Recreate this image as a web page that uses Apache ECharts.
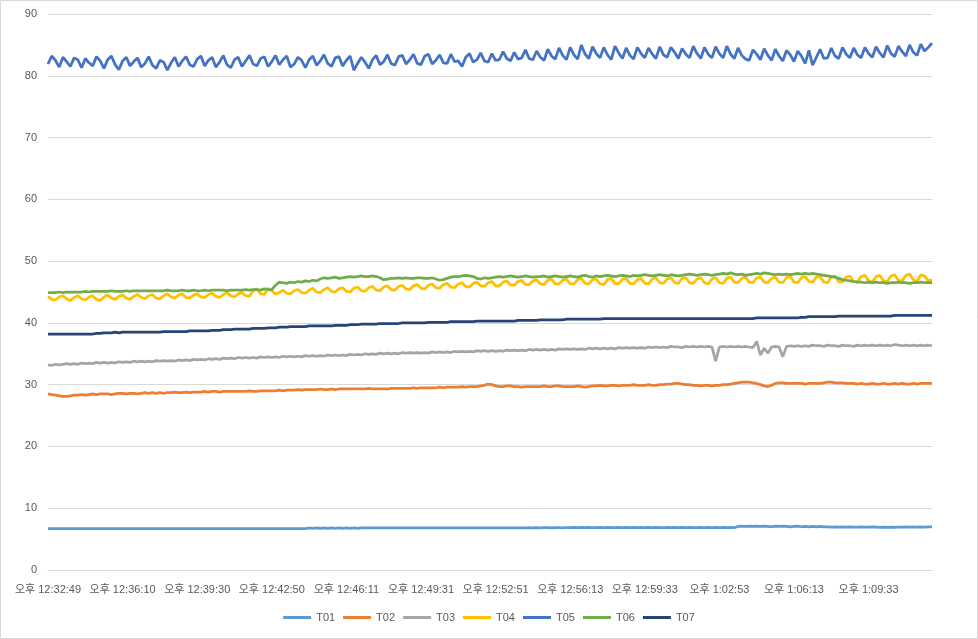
<!DOCTYPE html>
<html>
<head>
<meta charset="utf-8">
<script src="https://cdn.jsdelivr.net/npm/echarts@6/dist/echarts.min.js"></script>
<style>
html,body{margin:0;padding:0;background:#fff;}
#c{width:978px;height:639px;}
</style>
</head>
<body>
<div id="c"></div>
<script>
var TICKS = ['오후 12:32:49','오후 12:36:10','오후 12:39:30','오후 12:42:50','오후 12:46:11','오후 12:49:31','오후 12:52:51','오후 12:56:13','오후 12:59:33','오후 1:02:53','오후 1:06:13','오후 1:09:33'];
var NAMES = ['T01','T02','T03','T04','T05','T06','T07'];

var T01 = [
6.7,6.7,6.7,6.7,6.7,6.7,6.7,6.7,6.7,6.7,6.7,6.7,6.7,6.7,6.7,6.7,6.7,6.7,6.7,6.7,
6.7,6.7,6.7,6.7,6.7,6.7,6.7,6.7,6.7,6.7,6.7,6.7,6.7,6.7,6.7,6.7,6.7,6.7,6.7,6.7,
6.7,6.7,6.7,6.7,6.7,6.7,6.7,6.7,6.7,6.7,6.7,6.7,6.7,6.7,6.7,6.7,6.7,6.7,6.7,6.7,
6.7,6.7,6.7,6.7,6.7,6.7,6.7,6.7,6.7,6.7,6.8,6.75,6.8,6.75,6.8,6.75,6.8,6.75,6.8,6.75,
6.8,6.75,6.8,6.75,6.8,6.8,6.8,6.8,6.8,6.8,6.8,6.8,6.8,6.8,6.8,6.8,6.8,6.8,6.8,6.8,
6.8,6.8,6.8,6.8,6.8,6.8,6.8,6.8,6.8,6.8,6.8,6.8,6.8,6.8,6.8,6.8,6.8,6.8,6.8,6.8,
6.8,6.8,6.8,6.8,6.8,6.8,6.8,6.8,6.8,6.85,6.8,6.85,6.8,6.85,6.85,6.8,6.85,6.85,6.8,6.85,
6.85,6.9,6.85,6.9,6.85,6.9,6.85,6.85,6.9,6.85,6.9,6.85,6.85,6.9,6.85,6.9,6.85,6.9,6.85,6.9,
6.85,6.9,6.85,6.9,6.85,6.85,6.9,6.85,6.9,6.85,6.9,6.85,6.9,6.85,6.85,6.9,6.85,6.9,6.85,6.9,
6.85,6.9,6.85,6.9,6.85,7.05,7.1,7.05,7.1,7.05,7.1,7.05,7.1,7.05,7.0,7.1,7.05,7.1,7.05,7.0,
7.05,7.1,7.0,7.05,7.0,7.05,7.0,7.05,7.0,7.0,6.95,7.0,6.95,7.0,6.95,7.0,6.95,6.95,7.0,6.95,
6.95,7.0,6.95,6.9,6.95,6.9,6.95,6.9,6.95,6.95,7.0,6.95,7.0,6.95,7.0,6.95,7.0,7.0
];

var T02 = [
28.5,28.4,28.3,28.2,28.1,28.1,28.2,28.3,28.3,28.4,28.3,28.4,28.5,28.4,28.5,28.5,28.5,28.4,28.5,28.6,
28.6,28.5,28.6,28.6,28.5,28.6,28.7,28.6,28.7,28.6,28.7,28.6,28.7,28.7,28.8,28.7,28.7,28.8,28.7,28.8,
28.8,28.8,28.9,28.8,28.9,28.9,28.8,28.9,28.9,28.9,28.9,28.9,28.9,28.9,29.0,28.9,28.9,29.0,29.0,29.0,
29.0,29.0,29.1,29.0,29.1,29.1,29.1,29.2,29.1,29.2,29.2,29.2,29.2,29.3,29.2,29.2,29.3,29.2,29.3,29.3,
29.3,29.3,29.3,29.3,29.3,29.3,29.4,29.3,29.3,29.3,29.3,29.3,29.4,29.4,29.4,29.4,29.4,29.4,29.5,29.4,
29.5,29.5,29.5,29.5,29.5,29.6,29.5,29.6,29.6,29.6,29.6,29.7,29.6,29.7,29.7,29.7,29.8,29.9,30.1,30.0,
29.8,29.7,29.7,29.8,29.8,29.7,29.7,29.6,29.7,29.7,29.7,29.7,29.7,29.8,29.7,29.7,29.8,29.8,29.7,29.7,
29.7,29.7,29.8,29.7,29.6,29.7,29.8,29.8,29.9,29.8,29.8,29.9,29.9,29.8,29.9,29.9,29.9,30.0,29.9,29.9,
29.9,30.0,29.9,29.9,30.0,30.0,30.1,30.1,30.2,30.2,30.1,30.0,30.0,29.9,29.9,29.8,29.9,29.9,29.8,29.9,
29.9,30.0,30.0,30.1,30.2,30.3,30.4,30.4,30.4,30.3,30.2,30.0,29.8,29.7,29.9,30.2,30.3,30.3,30.2,30.2,
30.2,30.2,30.2,30.1,30.2,30.2,30.2,30.2,30.3,30.4,30.4,30.3,30.3,30.3,30.2,30.2,30.2,30.1,30.2,30.1,
30.1,30.2,30.1,30.1,30.2,30.1,30.1,30.2,30.1,30.2,30.1,30.1,30.2,30.1,30.2,30.2,30.2,30.2
];

var T03 = [
33.2,33.1,33.3,33.2,33.3,33.4,33.3,33.4,33.3,33.5,33.4,33.5,33.4,33.6,33.5,33.6,33.5,33.6,33.5,33.7,
33.6,33.7,33.6,33.8,33.7,33.8,33.7,33.8,33.7,33.9,33.8,33.9,33.8,33.9,33.8,34.0,33.9,34.0,33.9,34.1,
34.0,34.1,34.0,34.2,34.1,34.2,34.1,34.3,34.2,34.3,34.2,34.4,34.3,34.4,34.3,34.4,34.3,34.5,34.4,34.5,
34.4,34.5,34.4,34.6,34.5,34.6,34.5,34.6,34.5,34.7,34.6,34.7,34.6,34.7,34.6,34.8,34.7,34.8,34.7,34.8,
34.7,34.9,34.8,34.9,34.8,35.0,34.9,35.0,34.9,35.1,35.0,35.1,35.0,35.1,35.0,35.2,35.1,35.2,35.1,35.2,
35.1,35.2,35.1,35.3,35.2,35.3,35.2,35.3,35.2,35.4,35.3,35.4,35.3,35.4,35.3,35.5,35.4,35.5,35.4,35.5,
35.4,35.5,35.4,35.6,35.5,35.6,35.5,35.6,35.5,35.7,35.6,35.7,35.6,35.7,35.6,35.7,35.6,35.8,35.7,35.8,
35.7,35.8,35.7,35.8,35.7,35.9,35.8,35.9,35.8,35.9,35.8,35.9,35.8,36.0,35.9,36.0,35.9,36.0,35.9,36.0,
35.9,36.1,36.0,36.1,36.0,36.1,36.0,36.2,36.1,36.1,36.0,36.2,36.1,36.2,36.1,36.2,36.1,36.2,36.1,33.8,
36.1,36.2,36.1,36.2,36.1,36.2,36.1,36.2,36.1,36.0,37.0,34.8,35.9,35.1,36.1,36.2,36.1,34.5,36.2,36.3,
36.2,36.3,36.2,36.3,36.2,36.4,36.3,36.3,36.2,36.4,36.3,36.3,36.2,36.4,36.3,36.3,36.2,36.4,36.3,36.4,
36.3,36.4,36.3,36.4,36.3,36.4,36.3,36.5,36.4,36.3,36.4,36.3,36.4,36.3,36.4,36.3,36.4,36.3
];

var T04 = [
44.3,43.8,43.7,44.2,44.4,43.9,43.6,44.1,44.4,43.9,43.7,44.2,44.4,43.8,43.6,44.2,44.5,44.0,43.8,44.3,
44.5,44.0,43.8,44.3,44.6,44.1,43.9,44.4,44.6,44.0,43.9,44.4,44.7,44.2,44.0,44.5,44.7,44.1,44.0,44.5,
44.7,44.2,44.1,44.6,44.8,44.3,44.1,44.6,44.9,44.4,44.2,44.7,44.9,44.4,44.3,45.2,45.5,44.7,44.6,45.6,
45.2,44.7,44.9,45.3,44.8,44.7,45.2,45.4,44.9,44.8,45.3,45.6,45.0,44.9,45.4,45.7,45.1,45.0,45.5,45.7,
45.1,45.0,45.6,45.8,45.2,45.1,45.7,45.9,45.3,45.2,45.8,46.0,45.4,45.3,45.9,46.1,45.5,45.4,46.0,46.2,
45.6,45.5,46.1,46.3,45.7,45.6,46.2,46.4,45.8,45.7,46.3,46.5,45.9,45.8,46.4,46.6,46.0,45.9,46.5,46.7,
46.0,46.0,46.6,46.8,46.1,46.1,46.7,46.9,46.2,46.2,46.8,47.0,46.3,46.2,46.9,47.1,46.3,46.3,46.9,47.1,
46.3,46.3,47.0,47.2,46.4,46.3,47.0,47.1,46.3,46.2,47.0,47.2,46.4,46.3,47.1,47.2,46.4,46.3,47.0,47.2,
46.4,46.3,47.1,47.3,46.5,46.4,47.1,47.3,46.5,46.4,47.2,47.3,46.5,46.4,47.1,47.3,46.5,46.3,47.1,47.3,
46.5,46.4,47.2,47.4,46.6,46.5,47.2,47.4,46.6,46.5,47.3,47.4,46.6,46.5,47.2,47.4,46.6,46.5,47.3,47.5,
46.6,46.5,47.3,47.5,46.7,46.6,47.4,47.5,46.6,46.5,47.4,47.6,46.7,46.6,47.4,47.6,46.7,46.6,47.5,47.7,
46.8,46.6,47.5,47.7,46.8,46.7,47.6,47.8,46.9,46.8,47.7,47.9,47.0,46.7,47.8,47.6,46.8,47.0
];

var T05 = [
81.9,83.2,82.5,81.4,83.0,82.3,81.5,82.9,82.6,81.3,82.8,82.1,81.6,83.1,82.4,81.2,82.6,83.2,81.8,81.0,
82.4,83.0,81.6,82.3,82.9,81.4,82.0,83.1,81.7,81.2,82.5,82.2,80.9,82.1,83.0,81.5,82.4,83.1,81.8,81.5,
82.7,83.2,81.6,82.5,83.0,81.4,82.2,83.3,81.8,81.3,82.6,83.0,81.5,82.4,83.3,81.9,81.6,82.8,83.1,81.5,
82.3,83.3,81.8,82.6,83.2,81.4,81.9,83.0,82.5,81.3,82.6,83.2,81.7,82.4,83.4,82.0,81.5,82.9,83.1,81.6,
82.5,83.2,80.9,82.0,83.0,82.2,81.2,82.6,83.3,81.8,82.3,83.4,82.0,81.7,83.1,83.3,81.9,82.6,83.5,82.0,
81.8,83.2,83.5,81.9,82.5,83.4,82.1,82.0,83.5,82.3,82.4,81.5,83.0,83.6,82.2,82.6,83.7,82.4,82.2,83.6,
82.5,82.6,83.9,82.8,82.4,83.8,82.7,82.9,84.2,82.8,82.6,84.0,83.0,82.5,84.3,83.2,82.7,84.5,83.3,82.6,
84.6,83.4,82.7,85.0,83.5,82.8,84.7,83.6,82.9,84.6,83.4,82.6,84.8,83.7,82.8,84.5,83.3,82.7,84.6,83.6,
82.9,84.5,83.5,82.8,84.7,83.4,83.0,84.6,83.8,82.8,84.4,83.5,82.9,84.8,83.6,82.8,84.6,83.5,82.9,84.7,
83.6,82.9,84.8,83.5,82.8,84.5,83.3,82.7,82.5,84.2,83.5,82.6,84.4,83.3,82.5,84.3,83.2,82.4,84.1,83.4,
82.3,84.0,83.2,82.0,84.1,81.7,83.0,84.3,82.8,82.9,84.5,83.2,82.8,84.6,83.5,82.9,84.5,83.4,82.9,84.6,
83.6,83.0,84.7,83.7,83.0,84.9,83.6,83.1,84.8,83.9,83.2,85.0,83.8,83.3,85.1,84.0,84.6,85.3
];

var T06 = [
44.9,44.9,44.9,45.0,44.9,45.0,45.0,45.0,45.0,45.0,45.1,45.0,45.1,45.1,45.1,45.1,45.1,45.2,45.1,45.1,
45.1,45.2,45.1,45.2,45.2,45.2,45.2,45.2,45.2,45.2,45.2,45.2,45.3,45.2,45.2,45.2,45.3,45.2,45.2,45.3,
45.2,45.2,45.3,45.2,45.3,45.3,45.3,45.3,45.2,45.3,45.3,45.3,45.3,45.4,45.3,45.4,45.4,45.3,45.5,45.4,
45.4,46.1,46.6,46.5,46.4,46.6,46.5,46.7,46.6,46.8,46.7,46.9,46.8,47.1,47.3,47.2,47.3,47.4,47.2,47.3,
47.4,47.5,47.4,47.5,47.6,47.5,47.5,47.6,47.5,47.3,47.0,47.1,47.2,47.2,47.3,47.2,47.3,47.2,47.2,47.3,
47.3,47.2,47.2,47.3,47.1,46.9,47.0,47.2,47.4,47.5,47.5,47.6,47.7,47.6,47.5,47.2,47.1,47.3,47.2,47.3,
47.4,47.5,47.4,47.5,47.6,47.5,47.4,47.5,47.6,47.5,47.4,47.5,47.5,47.6,47.4,47.5,47.6,47.5,47.4,47.5,
47.6,47.5,47.4,47.6,47.7,47.5,47.4,47.6,47.5,47.6,47.7,47.6,47.5,47.6,47.7,47.6,47.5,47.7,47.6,47.7,
47.8,47.7,47.6,47.7,47.8,47.7,47.6,47.8,47.7,47.6,47.7,47.8,47.9,47.8,47.7,47.8,47.9,47.8,47.7,47.8,
47.9,48.0,47.9,48.1,47.9,47.8,47.9,47.7,47.8,47.9,48.0,47.9,48.1,48.0,47.9,47.8,47.9,47.8,47.9,47.8,
47.9,48.0,47.9,48.0,47.9,48.0,47.9,47.8,47.7,47.6,47.5,47.4,47.2,47.0,46.9,46.8,46.7,46.6,46.6,46.5,
46.6,46.5,46.6,46.5,46.5,46.4,46.5,46.5,46.6,46.5,46.5,46.4,46.5,46.5,46.6,46.5,46.5,46.5
];

var T07 = [
38.2,38.2,38.2,38.2,38.2,38.2,38.2,38.2,38.2,38.2,38.2,38.2,38.2,38.3,38.3,38.4,38.4,38.4,38.5,38.4,
38.5,38.5,38.5,38.5,38.5,38.5,38.5,38.5,38.5,38.5,38.5,38.6,38.6,38.6,38.6,38.6,38.6,38.6,38.7,38.7,
38.7,38.7,38.7,38.7,38.8,38.8,38.8,38.9,38.9,38.9,39.0,39.0,39.0,39.0,39.0,39.1,39.1,39.1,39.1,39.2,
39.2,39.2,39.3,39.3,39.3,39.4,39.4,39.4,39.4,39.4,39.5,39.5,39.5,39.5,39.5,39.5,39.5,39.6,39.6,39.6,
39.6,39.7,39.7,39.7,39.8,39.8,39.8,39.8,39.8,39.9,39.9,39.9,39.9,39.9,39.9,40.0,40.0,40.0,40.0,40.0,
40.0,40.0,40.1,40.1,40.1,40.1,40.1,40.1,40.2,40.2,40.2,40.2,40.2,40.2,40.2,40.3,40.3,40.3,40.3,40.3,
40.3,40.3,40.3,40.3,40.3,40.3,40.4,40.4,40.4,40.4,40.4,40.4,40.5,40.5,40.5,40.5,40.5,40.5,40.5,40.6,
40.6,40.6,40.6,40.6,40.6,40.6,40.6,40.6,40.6,40.7,40.7,40.7,40.7,40.7,40.7,40.7,40.7,40.7,40.7,40.7,
40.7,40.7,40.7,40.7,40.7,40.7,40.7,40.7,40.7,40.7,40.7,40.7,40.7,40.7,40.7,40.7,40.7,40.7,40.7,40.7,
40.7,40.7,40.7,40.7,40.7,40.7,40.7,40.7,40.7,40.7,40.8,40.8,40.8,40.8,40.8,40.8,40.8,40.8,40.8,40.8,
40.8,40.8,40.9,40.9,41.0,41.0,41.0,41.0,41.0,41.0,41.0,41.0,41.1,41.1,41.1,41.1,41.1,41.1,41.1,41.1,
41.1,41.1,41.1,41.1,41.1,41.1,41.1,41.2,41.2,41.2,41.2,41.2,41.2,41.2,41.2,41.2,41.2,41.2
];

var COLORS = ['#5B9BD5','#ED7D31','#A5A5A5','#FFC000','#4472C4','#70AD47','#264478'];
var SERIES_DATA = [T01,T02,T03,T04,T05,T06,T07];
var TICK_EVERY = 20;

var n = T01.length;
var cats = [];
for (var i = 0; i < n; i++) cats.push(String(i));

var chart = echarts.init(document.getElementById('c'), null, {renderer:'canvas'});
var FONT = "'Liberation Sans','Noto Sans CJK KR',sans-serif";
chart.setOption({
  animation: false,
  backgroundColor: '#fff',
  color: COLORS,
  graphic: [{type:'rect', shape:{x:0.5,y:0.5,width:977,height:638}, style:{fill:'none', stroke:'#D9D9D9', lineWidth:1}, silent:true}],
  grid: {left:48, right:46, top:14, bottom:69, containLabel:false},
  xAxis: {
    type:'category', data: cats, boundaryGap:false,
    axisLine:{show:true, lineStyle:{color:'#D9D9D9', width:1}},
    axisTick:{show:false},
    splitLine:{show:false},
    axisLabel:{
      interval: TICK_EVERY - 1, color:'#595959', fontSize:11, fontFamily:FONT, margin:14,
      formatter:function(v, idx){ return idx % TICK_EVERY === 0 ? (TICKS[idx / TICK_EVERY] || '') : ''; }
    }
  },
  yAxis: {
    type:'value', min:0, max:90, interval:10,
    axisLine:{show:false}, axisTick:{show:false},
    splitLine:{show:true, lineStyle:{color:'#D9D9D9', width:1}},
    axisLabel:{color:'#595959', fontSize:11, fontFamily:FONT, margin:11}
  },
  legend: {
    bottom: 11, left:'center', icon:'rect', itemWidth:28, itemHeight:3, itemGap:8,
    textStyle:{color:'#595959', fontSize:11, fontFamily:FONT},
    data: NAMES
  },
  series: NAMES.map(function(nm, k){
    return {
      name:nm, type:'line', data:SERIES_DATA[k], showSymbol:false, symbol:'none',
      lineStyle:{width:2.75, color:COLORS[k]}, itemStyle:{color:COLORS[k]},
      smooth:false, silent:true
    };
  })
});
</script>
</body>
</html>
